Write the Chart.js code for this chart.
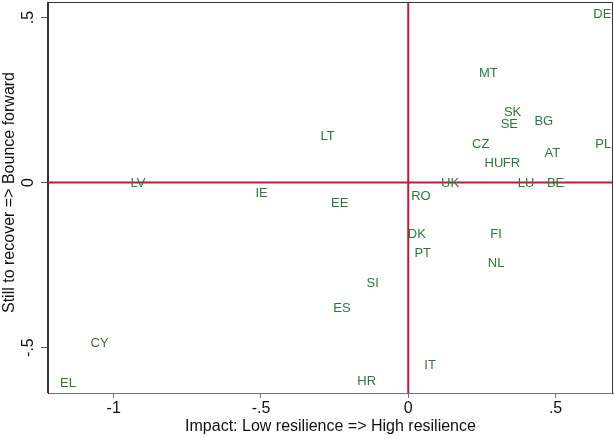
<!DOCTYPE html>
<html><head><meta charset="utf-8">
<script src="https://cdn.jsdelivr.net/npm/chart.js@4"></script>
<style>html,body{margin:0;padding:0;background:#fff}#wrap{width:614px;height:439px}</style>
</head><body><div id="wrap"><canvas id="c" width="614" height="439"></canvas></div>
<script>
const countries = ['DE','MT','SK','SE','BG','CZ','PL','AT','HU','FR','UK','LU','BE','RO','LT','EE','LV','IE','CY','EL','DK','FI','PT','NL','SI','ES','IT','HR'];
const impact   = [0.659,0.272,0.354,0.343,0.460,0.246,0.662,0.489,0.291,0.350,0.142,0.400,0.500,0.043,-0.274,-0.233,-0.918,-0.498,-1.048,-1.155,0.029,0.298,0.049,0.298,-0.121,-0.225,0.074,-0.141];
const recovery = [0.512,0.333,0.214,0.180,0.189,0.119,0.120,0.090,0.061,0.061,0.000,0.000,0.000,-0.038,0.143,-0.061,0.000,-0.031,-0.485,-0.607,-0.153,-0.153,-0.211,-0.242,-0.302,-0.377,-0.551,-0.600];
const xTicks = [-1,-0.5,0,0.5];
const xTickLabels = ['-1','-.5','0','.5'];
const yTicks = [-0.5,0,0.5];
const yTickLabels = ['-.5','0','.5'];
const xTitle = 'Impact: Low resilience => High resilience';
const yTitle = 'Still to recover => Bounce forward';

const FONT = "'Liberation Sans', Arial, sans-serif";
const LABEL_COLOR = '#297a38';
const REF_COLOR = '#c8143e';

const deco = {
  id:'deco',
  beforeDatasetsDraw(chart){
    const {ctx, chartArea:a, scales:{x, y}} = chart;
    ctx.save();
    ctx.strokeStyle = REF_COLOR; ctx.lineWidth = 2;
    const px = x.getPixelForValue(0), py = y.getPixelForValue(0);
    ctx.beginPath();
    ctx.moveTo(px, a.top); ctx.lineTo(px, a.bottom);
    ctx.moveTo(a.left, py); ctx.lineTo(a.right, py);
    ctx.stroke();
    ctx.restore();
  },
  afterDatasetsDraw(chart){
    const {ctx} = chart;
    const meta = chart.getDatasetMeta(0);
    ctx.save();
    ctx.font = '13px ' + FONT;
    ctx.fillStyle = LABEL_COLOR;
    ctx.textAlign = 'center'; ctx.textBaseline = 'middle';
    meta.data.forEach((pt, i) => ctx.fillText(countries[i], pt.x, pt.y + 1));
    ctx.restore();
  },
  afterDraw(chart){
    const {ctx, chartArea:a, scales:{y}} = chart;
    ctx.save();
    ctx.strokeStyle = '#333'; ctx.lineWidth = 1;
    ctx.beginPath();
    ctx.moveTo(a.left, a.top + 0.5); ctx.lineTo(a.right - 0.5, a.top + 0.5); ctx.lineTo(a.right - 0.5, a.bottom);
    ctx.moveTo(a.left - 0.5, a.top); ctx.lineTo(a.left - 0.5, a.bottom);
    ctx.stroke();
    ctx.fillStyle = '#111';
    ctx.font = '16px ' + FONT;
    ctx.textAlign = 'center'; ctx.textBaseline = 'middle';
    yTicks.forEach((v, i) => {
      ctx.save();
      ctx.translate(29, y.getPixelForValue(v));
      ctx.rotate(-Math.PI/2);
      ctx.fillText(yTickLabels[i], 0, 0);
      ctx.restore();
    });
    ctx.fillText(xTitle, (a.left + a.right)/2, 427);
    ctx.save();
    ctx.translate(9.5, 192.5);
    ctx.rotate(-Math.PI/2);
    ctx.fillText(yTitle, 0, 0);
    ctx.restore();
    ctx.restore();
  }
};

new Chart(document.getElementById('c'), {
  type: 'scatter',
  data: { datasets: [{ data: countries.map((c, i) => ({x: impact[i], y: recovery[i]})), pointRadius: 0, pointHoverRadius: 0 }] },
  options: {
    responsive: false, animation: false,
    layout: { padding: { top: 2, right: 1, left: 0, bottom: 0 } },
    plugins: { legend: { display: false }, tooltip: { enabled: false } },
    scales: {
      x: {
        type: 'linear', min: -1.223, max: 0.695,
        afterBuildTicks: s => { s.ticks = xTicks.map(v => ({value: v})); },
        afterFit: s => { s.height = 46; },
        ticks: { callback: v => xTickLabels[xTicks.indexOf(v)], font: { size: 16, family: FONT }, color: '#111', padding: 1, maxRotation: 0 },
        grid: { drawOnChartArea: false, drawTicks: true, tickLength: 5, color: '#777' },
        border: { color: '#777', width: 1 }
      },
      y: {
        type: 'linear', min: -0.6376, max: 0.547,
        afterBuildTicks: s => { s.ticks = yTicks.map(v => ({value: v})); },
        afterFit: s => { s.width = 48; },
        ticks: { display: false },
        grid: { drawOnChartArea: false, drawTicks: true, tickLength: 7, color: '#555' },
        border: { color: '#333', width: 1 }
      }
    }
  },
  plugins: [deco]
});
</script></body></html>
